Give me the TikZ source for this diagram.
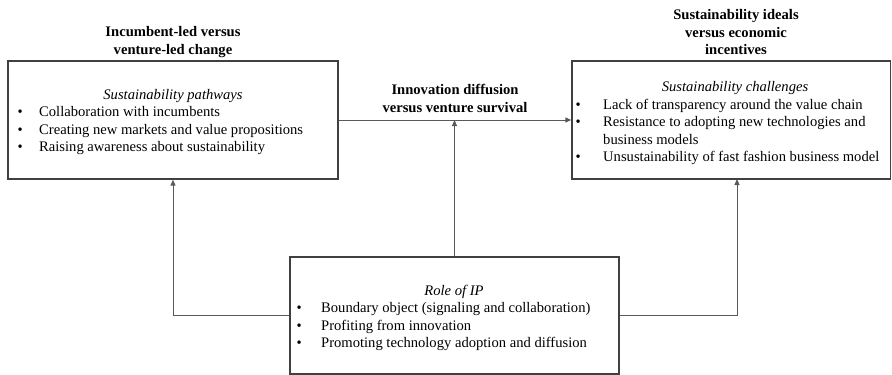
\documentclass[tikz,border=0pt]{standalone}
\usepackage{fontspec}
\setmainfont{Liberation Serif}
\usetikzlibrary{arrows.meta}
\definecolor{boxline}{HTML}{404040}
\definecolor{connline}{HTML}{5A5A5A}
\begin{document}
\begin{tikzpicture}[x=1pt,y=-1pt,
  box/.style={draw=boxline,line width=1.3pt,rectangle,inner sep=0pt},
  conn/.style={draw=connline,line width=0.9pt,-{Triangle[length=6pt,width=5pt]}},
  txt/.style={inner sep=0pt,font=\fontsize{14.6}{17.5}\selectfont},
  head/.style={inner sep=0pt,align=center,font=\fontsize{14.6}{17.5}\selectfont\bfseries},
  ttl/.style={inner sep=0pt,anchor=base,font=\fontsize{14.6}{17.5}\selectfont\itshape}]
\useasboundingbox (0,0) rectangle (892,375);

% boxes
\node[box,minimum width=330pt,minimum height=118pt] (lbox) at (173,120) {};
\node[box,minimum width=318.5pt,minimum height=118pt] (rbox) at (731.25,120) {};
\node[box,minimum width=329pt,minimum height=117pt] (bbox) at (454.5,315.5) {};

% headings
\node[head,anchor=base] (lhead) at (173,36.5) {\begin{tabular}[t]{@{}c@{}}Incumbent-led versus\\venture-led change\end{tabular}};
\node[head,anchor=base] (rhead) at (736,19.5) {\begin{tabular}[t]{@{}c@{}}Sustainability ideals\\versus economic\\incentives\end{tabular}};
\node[head,anchor=base] (mhead) at (455,94.5) {\begin{tabular}[t]{@{}c@{}}Innovation diffusion\\versus venture survival\end{tabular}};

% left box content
\node[ttl] (ltitle) at (173,99.5) {Sustainability pathways};
\node[txt,anchor=base west] (llist) at (17.5,116.5) {\begin{tabular}[t]{@{}p{21.5pt}@{}l@{}}
\textbullet & Collaboration with incumbents\\
\textbullet & Creating new markets and value propositions\\
\textbullet & Raising awareness about sustainability
\end{tabular}};

% right box content
\node[ttl] (rtitle) at (735,91.5) {Sustainability challenges};
\node[txt,anchor=base west] (rlist) at (575.5,109) {\begin{tabular}[t]{@{}p{27.5pt}@{}l@{}}
\textbullet & Lack of transparency around the value chain\\
\textbullet & Resistance to adopting new technologies and\\
 & business models\\
\textbullet & Unsustainability of fast fashion business model
\end{tabular}};

% bottom box content
\node[ttl] (btitle) at (454,295.5) {Role of IP};
\node[txt,anchor=base west] (blist) at (296.5,312.5) {\begin{tabular}[t]{@{}p{24.5pt}@{}l@{}}
\textbullet & Boundary object (signaling and collaboration)\\
\textbullet & Profiting from innovation\\
\textbullet & Promoting technology adoption and diffusion
\end{tabular}};

% connectors
\coordinate (mid) at (454.5,120);
\coordinate (rin) at (737,179);
\draw[conn] (lbox.east) -- (rbox.west);
\draw[conn] (bbox.north) -- (mid);
\draw[conn] (bbox.west) -| (lbox.south);
\draw[conn] (bbox.east) -| (rin);
\end{tikzpicture}
\end{document}
